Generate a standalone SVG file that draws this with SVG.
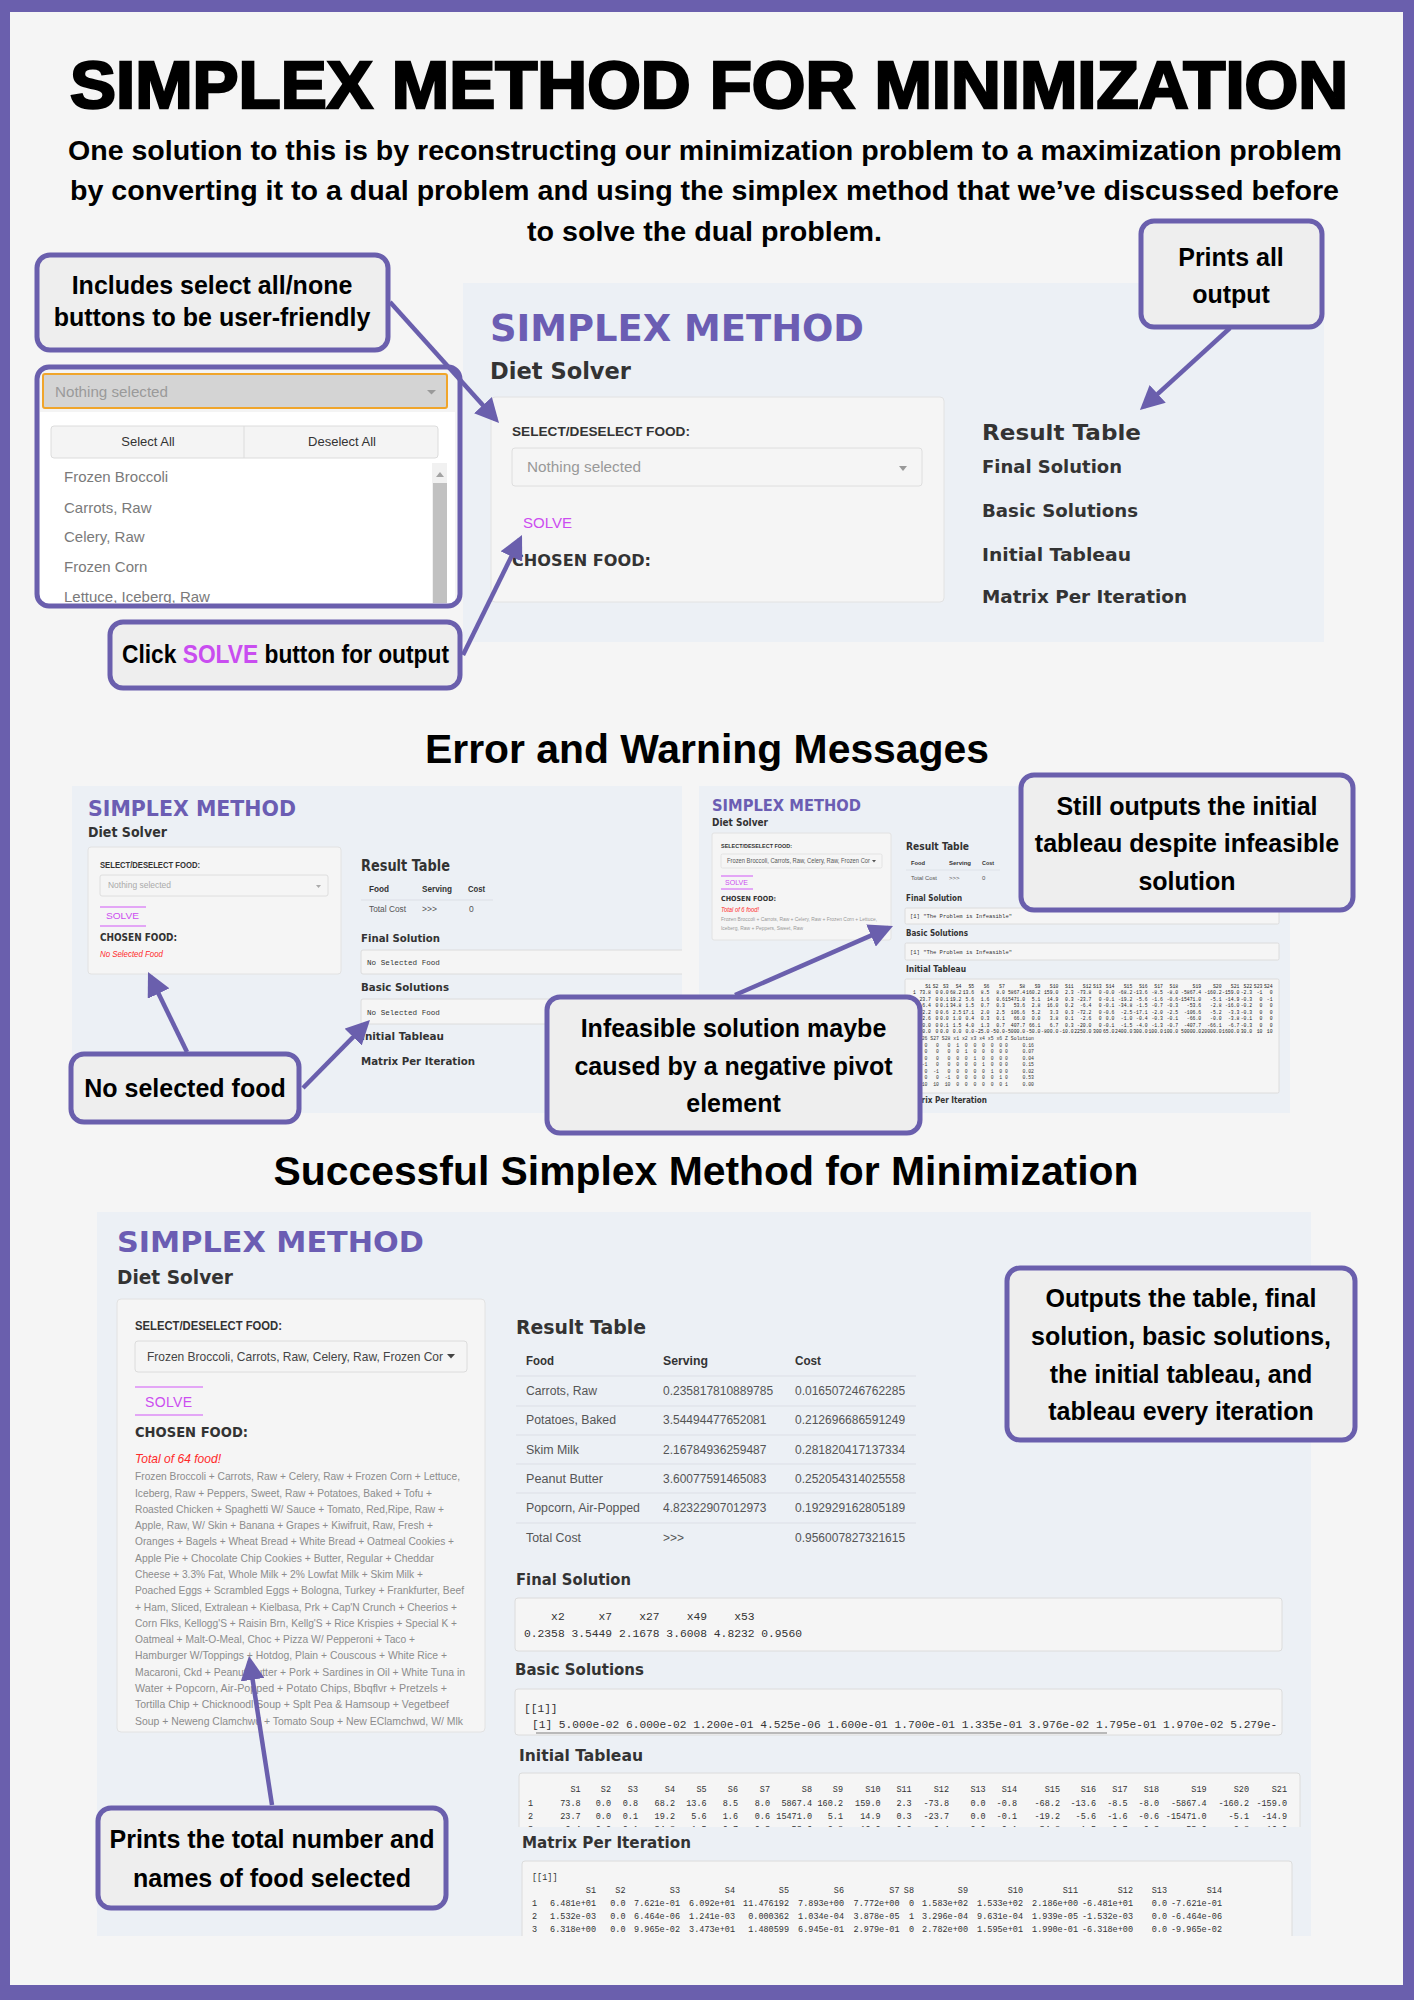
<svg xmlns="http://www.w3.org/2000/svg" width="1414" height="2000" viewBox="0 0 1414 2000">
<defs>
<style>
.co{fill:#eeeeee;stroke:#6a5fad;stroke-width:5}
.ct{font-family:"Liberation Sans",Arial,sans-serif;font-weight:700;font-size:25px;fill:#000;text-anchor:middle}
.sec{font-family:"Liberation Sans",Arial,sans-serif;font-weight:700;font-size:41px;fill:#000;text-anchor:middle}
.pnl{fill:#ecf0f5}
.card{fill:#f5f5f5;stroke:#e2e2e2;stroke-width:1}
.box{fill:#f5f5f5;stroke:#dcdcdc;stroke-width:1}
.hd{font-family:"DejaVu Sans",Verdana,sans-serif;font-weight:700;fill:#333}
.ap{font-family:"DejaVu Sans",Verdana,sans-serif;font-weight:700;fill:#6b5db3}
.sb{font-family:"Liberation Sans",Arial,sans-serif;font-weight:700;fill:#333}
.sn{font-family:"Liberation Sans",Arial,sans-serif;fill:#555}
.mo{font-family:"Liberation Mono","DejaVu Sans Mono",monospace;fill:#333;white-space:pre}
.tr{text-anchor:end}
.sv{font-family:"Liberation Sans",Arial,sans-serif;fill:#cc4df0}
.sl{stroke:#e3a6f6;stroke-width:2}
.red{font-family:"Liberation Sans",Arial,sans-serif;font-style:italic;fill:#ff2a2a}
.fl{font-family:"Liberation Sans",Arial,sans-serif;font-size:11px;fill:#8c8c8c}
.li{font-family:"Liberation Sans",Arial,sans-serif;font-size:15px;fill:#7a7a7a}
.conn{fill:none;stroke:#6a5fad;stroke-width:4.5;marker-end:url(#ah)}
</style>
<marker id="ah" markerUnits="userSpaceOnUse" markerWidth="24" markerHeight="24" viewBox="0 0 10 10" refX="8" refY="5" orient="auto"><path d="M0,0 L10,5 L0,10 Z" fill="#6a5fad"/></marker>
<clipPath id="cpList"><rect x="40" y="410" width="415" height="193"/></clipPath>
<clipPath id="cpEL"><rect x="72" y="786" width="610" height="327"/></clipPath>
<clipPath id="cpER"><rect x="699" y="786" width="591" height="327"/></clipPath>
<clipPath id="cpBot"><rect x="97" y="1212" width="1214" height="724"/></clipPath>
<clipPath id="cpIT"><rect x="510" y="1770" width="800" height="57"/></clipPath>
<clipPath id="cpBS"><rect x="516" y="1690" width="765" height="44"/></clipPath>
</defs>

<rect width="1414" height="2000" fill="#6a5fad"/>
<rect x="10" y="12" width="1393" height="1973" fill="#f5f5f5"/>

<g id="header">
<text x="709" y="108" text-anchor="middle" font-family="'Liberation Sans',Arial,sans-serif" font-weight="700" font-size="66" stroke="#000" stroke-width="2.5" textLength="1278" lengthAdjust="spacingAndGlyphs">SIMPLEX METHOD FOR MINIMIZATION</text>
<text x="705" y="160" text-anchor="middle" font-family="'Liberation Sans',Arial,sans-serif" font-weight="700" font-size="27" textLength="1274" lengthAdjust="spacingAndGlyphs">One solution to this is by reconstructing our minimization problem to a maximization problem</text>
<text x="704.5" y="200" text-anchor="middle" font-family="'Liberation Sans',Arial,sans-serif" font-weight="700" font-size="27" textLength="1269" lengthAdjust="spacingAndGlyphs">by converting it to a dual problem and using the simplex method that we’ve discussed before</text>
<text x="704.5" y="241" text-anchor="middle" font-family="'Liberation Sans',Arial,sans-serif" font-weight="700" font-size="27" textLength="355" lengthAdjust="spacingAndGlyphs">to solve the dual problem.</text>
</g>

<!-- Top-left dropdown screenshot -->
<g id="dropdown">
<rect x="37" y="367" width="423" height="239" rx="12" fill="#f4f4f4"/>
<rect x="40" y="412" width="415" height="192" fill="#ffffff"/>
<rect x="43" y="374" width="404" height="34" rx="2" fill="#d4d4d4" stroke="#f0a52b" stroke-width="2"/>
<text x="55" y="397" font-family="'Liberation Sans',Arial,sans-serif" font-size="15.5" fill="#9a9a9a" textLength="113" lengthAdjust="spacingAndGlyphs">Nothing selected</text>
<path d="M427,390 h9 l-4.5,4.5 Z" fill="#9a9a9a"/>
<rect x="51" y="426" width="387" height="32" rx="3" fill="#f4f4f4" stroke="#dcdcdc"/>
<line x1="244" y1="426" x2="244" y2="458" stroke="#dcdcdc"/>
<text x="148" y="446" text-anchor="middle" font-family="'Liberation Sans',Arial,sans-serif" font-size="13" fill="#333">Select All</text>
<text x="342" y="446" text-anchor="middle" font-family="'Liberation Sans',Arial,sans-serif" font-size="13" fill="#333">Deselect All</text>
<g clip-path="url(#cpList)">
<rect x="432" y="463" width="15" height="141" fill="#f1f1f1"/>
<rect x="433" y="483" width="14" height="121" fill="#c1c1c1"/>
<path d="M436,477 l4,-5 l4,5 Z" fill="#a3a3a3"/>
<text class="li" x="64" y="482">Frozen Broccoli</text>
<text class="li" x="64" y="513">Carrots, Raw</text>
<text class="li" x="64" y="542">Celery, Raw</text>
<text class="li" x="64" y="572">Frozen Corn</text>
<text class="li" x="64" y="602">Lettuce, Iceberg, Raw</text>
</g>
<rect x="37" y="367" width="423" height="239" rx="12" fill="none" stroke="#6a5fad" stroke-width="5"/>
</g>

<!-- Top-right app screenshot -->
<g id="app-top">
<rect class="pnl" x="463" y="283" width="861" height="359"/>
<text class="ap" x="490" y="341" font-size="37" textLength="374" lengthAdjust="spacingAndGlyphs">SIMPLEX METHOD</text>
<text class="hd" x="490" y="379" font-size="23" textLength="141" lengthAdjust="spacingAndGlyphs">Diet Solver</text>
<rect class="card" x="491" y="397" width="453" height="205" rx="4"/>
<text class="sb" x="512" y="436" font-size="13" textLength="178" lengthAdjust="spacingAndGlyphs">SELECT/DESELECT FOOD:</text>
<rect x="512" y="448" width="410" height="38" rx="3" fill="#f5f5f5" stroke="#dedede"/>
<text x="527" y="472" font-family="'Liberation Sans',Arial,sans-serif" font-size="15" fill="#999" textLength="114" lengthAdjust="spacingAndGlyphs">Nothing selected</text>
<path d="M899,466 h8 l-4,5 Z" fill="#999"/>
<text class="sv" x="523" y="528" font-size="15" textLength="49" lengthAdjust="spacingAndGlyphs">SOLVE</text>
<text class="hd" x="512" y="566" font-size="15" textLength="139" lengthAdjust="spacingAndGlyphs">CHOSEN FOOD:</text>
<text class="hd" x="982" y="440" font-size="22" textLength="159" lengthAdjust="spacingAndGlyphs">Result Table</text>
<text class="hd" x="982" y="473" font-size="18" textLength="140" lengthAdjust="spacingAndGlyphs">Final Solution</text>
<text class="hd" x="982" y="517" font-size="18" textLength="156" lengthAdjust="spacingAndGlyphs">Basic Solutions</text>
<text class="hd" x="982" y="561" font-size="18" textLength="149" lengthAdjust="spacingAndGlyphs">Initial Tableau</text>
<text class="hd" x="982" y="603" font-size="18" textLength="205" lengthAdjust="spacingAndGlyphs">Matrix Per Iteration</text>
</g>

<g id="title-errors">
<text class="sec" x="707" y="763" textLength="564" lengthAdjust="spacingAndGlyphs">Error and Warning Messages</text>
</g>

<!-- Error left screenshot -->
<g id="app-error-left" clip-path="url(#cpEL)">
<rect class="pnl" x="72" y="786" width="610" height="327"/>
<text class="ap" x="88" y="816" font-size="21" textLength="208" lengthAdjust="spacingAndGlyphs">SIMPLEX METHOD</text>
<text class="hd" x="88" y="837" font-size="14" textLength="79" lengthAdjust="spacingAndGlyphs">Diet Solver</text>
<rect class="card" x="88" y="847" width="253" height="127" rx="3"/>
<text class="sb" x="100" y="868" font-size="8.5" textLength="100" lengthAdjust="spacingAndGlyphs">SELECT/DESELECT FOOD:</text>
<rect x="100" y="875" width="228" height="21" rx="2" fill="#f5f5f5" stroke="#dedede"/>
<text x="108" y="888" font-family="'Liberation Sans',Arial,sans-serif" font-size="9" fill="#aaa" textLength="63" lengthAdjust="spacingAndGlyphs">Nothing selected</text>
<path d="M316,885 h5 l-2.5,3 Z" fill="#aaa"/>
<line class="sl" x1="100" y1="907" x2="146" y2="907"/>
<line class="sl" x1="100" y1="926" x2="146" y2="926"/>
<text class="sv" x="106" y="919" font-size="9.5" textLength="33" lengthAdjust="spacingAndGlyphs">SOLVE</text>
<text class="hd" x="100" y="941" font-size="10" textLength="77" lengthAdjust="spacingAndGlyphs">CHOSEN FOOD:</text>
<text class="red" x="100" y="957" font-size="9" textLength="63" lengthAdjust="spacingAndGlyphs">No Selected Food</text>
<text class="hd" x="361" y="871" font-size="15" textLength="89" lengthAdjust="spacingAndGlyphs">Result Table</text>
<text class="sb" x="369" y="892" font-size="8.5" textLength="20" lengthAdjust="spacingAndGlyphs">Food</text>
<text class="sb" x="422" y="892" font-size="8.5" textLength="30" lengthAdjust="spacingAndGlyphs">Serving</text>
<text class="sb" x="468" y="892" font-size="8.5" textLength="17" lengthAdjust="spacingAndGlyphs">Cost</text>
<line x1="361" y1="900" x2="493" y2="900" stroke="#dcdfe6"/>
<text class="sn" x="369" y="912" font-size="8.5" textLength="37" lengthAdjust="spacingAndGlyphs">Total Cost</text>
<text class="sn" x="422" y="912" font-size="8.5">&gt;&gt;&gt;</text>
<text class="sn" x="469" y="912" font-size="8.5">0</text>
<text class="hd" x="361" y="942" font-size="11" textLength="79" lengthAdjust="spacingAndGlyphs">Final Solution</text>
<rect class="box" x="361" y="950" width="340" height="24" rx="2"/>
<text class="mo" x="367" y="965" font-size="7.6" fill="#555">No Selected Food</text>
<text class="hd" x="361" y="991" font-size="11" textLength="88" lengthAdjust="spacingAndGlyphs">Basic Solutions</text>
<rect class="box" x="361" y="999" width="340" height="25" rx="2"/>
<text class="mo" x="367" y="1015" font-size="7.6" fill="#555">No Selected Food</text>
<text class="hd" x="361" y="1040" font-size="11" textLength="83" lengthAdjust="spacingAndGlyphs">Initial Tableau</text>
<text class="hd" x="361" y="1065" font-size="11" textLength="114" lengthAdjust="spacingAndGlyphs">Matrix Per Iteration</text>
</g>

<!-- Error right screenshot -->
<g id="app-error-right" clip-path="url(#cpER)">
<rect class="pnl" x="699" y="786" width="591" height="327"/>
<text class="ap" x="712" y="811" font-size="15.5" textLength="149" lengthAdjust="spacingAndGlyphs">SIMPLEX METHOD</text>
<text class="hd" x="712" y="826" font-size="10.5" textLength="56" lengthAdjust="spacingAndGlyphs">Diet Solver</text>
<rect class="card" x="712" y="833" width="179" height="107" rx="2"/>
<text class="sb" x="721" y="848" font-size="6" textLength="71" lengthAdjust="spacingAndGlyphs">SELECT/DESELECT FOOD:</text>
<rect x="721" y="854" width="161" height="14" rx="1.5" fill="#f5f5f5" stroke="#dedede" stroke-width="0.8"/>
<text x="727" y="863" font-family="'Liberation Sans',Arial,sans-serif" font-size="6.3" fill="#555" textLength="143" lengthAdjust="spacingAndGlyphs">Frozen Broccoli, Carrots, Raw, Celery, Raw, Frozen Cor</text>
<path d="M872,860 h4 l-2,2.5 Z" fill="#555"/>
<line class="sl" x1="721" y1="876" x2="753" y2="876" stroke-width="1.2"/>
<line class="sl" x1="721" y1="889" x2="753" y2="889" stroke-width="1.2"/>
<text class="sv" x="725" y="885" font-size="6.5" textLength="23" lengthAdjust="spacingAndGlyphs">SOLVE</text>
<text class="hd" x="721" y="901" font-size="7" textLength="55" lengthAdjust="spacingAndGlyphs">CHOSEN FOOD:</text>
<text class="red" x="721" y="912" font-size="6.5" textLength="38" lengthAdjust="spacingAndGlyphs">Total of 6 food!</text>
<text x="721" y="921" font-family="'Liberation Sans',Arial,sans-serif" font-size="5.5" fill="#999" textLength="156" lengthAdjust="spacingAndGlyphs">Frozen Broccoli + Carrots, Raw + Celery, Raw + Frozen Corn + Lettuce,</text>
<text x="721" y="930" font-family="'Liberation Sans',Arial,sans-serif" font-size="5.5" fill="#999" textLength="82" lengthAdjust="spacingAndGlyphs">Iceberg, Raw + Peppers, Sweet, Raw</text>
<text class="hd" x="906" y="850" font-size="10.5" textLength="63" lengthAdjust="spacingAndGlyphs">Result Table</text>
<text class="sb" x="911" y="865" font-size="6" textLength="14" lengthAdjust="spacingAndGlyphs">Food</text>
<text class="sb" x="949" y="865" font-size="6" textLength="22" lengthAdjust="spacingAndGlyphs">Serving</text>
<text class="sb" x="982" y="865" font-size="6" textLength="12" lengthAdjust="spacingAndGlyphs">Cost</text>
<line x1="906" y1="870" x2="1000" y2="870" stroke="#dcdfe6" stroke-width="0.8"/>
<text class="sn" x="911" y="880" font-size="6" textLength="26" lengthAdjust="spacingAndGlyphs">Total Cost</text>
<text class="sn" x="949" y="880" font-size="6">&gt;&gt;&gt;</text>
<text class="sn" x="982" y="880" font-size="6">0</text>
<text class="hd" x="906" y="901" font-size="8" textLength="56" lengthAdjust="spacingAndGlyphs">Final Solution</text>
<rect class="box" x="905" y="908" width="374" height="16" rx="1.5"/>
<text class="mo" x="910" y="918" font-size="5.5" fill="#555" textLength="102" lengthAdjust="spacingAndGlyphs">[1] "The Problem is Infeasible"</text>
<text class="hd" x="906" y="936" font-size="8" textLength="62" lengthAdjust="spacingAndGlyphs">Basic Solutions</text>
<rect class="box" x="905" y="943" width="374" height="17" rx="1.5"/>
<text class="mo" x="910" y="954" font-size="5.5" fill="#555" textLength="102" lengthAdjust="spacingAndGlyphs">[1] "The Problem is Infeasible"</text>
<text class="hd" x="906" y="972" font-size="8" textLength="60" lengthAdjust="spacingAndGlyphs">Initial Tableau</text>
<rect class="box" x="905" y="979" width="374" height="114" rx="1.5"/>
<g font-family="'Liberation Mono','DejaVu Sans Mono',monospace" font-size="4.8" fill="#222">
<text text-anchor="end" y="987.5"><tspan x="931">S1</tspan><tspan x="938.5">S2</tspan><tspan x="948.7">S3</tspan><tspan x="961.5">S4</tspan><tspan x="974.2">S5</tspan><tspan x="989.5">S6</tspan><tspan x="1004.8">S7</tspan><tspan x="1025.2">S8</tspan><tspan x="1040.5">S9</tspan><tspan x="1058.4">S10</tspan><tspan x="1073.7">S11</tspan><tspan x="1091.5">S12</tspan><tspan x="1101.7">S13</tspan><tspan x="1114.5">S14</tspan><tspan x="1132.3">S15</tspan><tspan x="1147.6">S16</tspan><tspan x="1162.9">S17</tspan><tspan x="1178.2">S18</tspan><tspan x="1201.2">S19</tspan><tspan x="1221.6">S20</tspan><tspan x="1239.4">S21</tspan><tspan x="1252.2">S22</tspan><tspan x="1262.4">S23</tspan><tspan x="1272.6">S24</tspan></text>
<text x="913" y="994">1</text>
<text text-anchor="end" y="994"><tspan x="931">73.8</tspan><tspan x="938.5">0</tspan><tspan x="948.7">0.0</tspan><tspan x="961.5">68.2</tspan><tspan x="974.2">13.6</tspan><tspan x="989.5">8.5</tspan><tspan x="1004.8">8.0</tspan><tspan x="1025.2">5867.4</tspan><tspan x="1040.5">160.2</tspan><tspan x="1058.4">159.0</tspan><tspan x="1073.7">2.3</tspan><tspan x="1091.5">-73.8</tspan><tspan x="1101.7">0</tspan><tspan x="1114.5">-0.0</tspan><tspan x="1132.3">-68.2</tspan><tspan x="1147.6">-13.6</tspan><tspan x="1162.9">-8.5</tspan><tspan x="1178.2">-8.0</tspan><tspan x="1201.2">-5867.4</tspan><tspan x="1221.6">-160.2</tspan><tspan x="1239.4">-159.0</tspan><tspan x="1252.2">-2.3</tspan><tspan x="1262.4">-1</tspan><tspan x="1272.6">0</tspan></text>
<text text-anchor="end" y="1000.5"><tspan x="931">23.7</tspan><tspan x="938.5">0</tspan><tspan x="948.7">0.1</tspan><tspan x="961.5">19.2</tspan><tspan x="974.2">5.6</tspan><tspan x="989.5">1.6</tspan><tspan x="1004.8">0.6</tspan><tspan x="1025.2">15471.0</tspan><tspan x="1040.5">5.1</tspan><tspan x="1058.4">14.9</tspan><tspan x="1073.7">0.3</tspan><tspan x="1091.5">-23.7</tspan><tspan x="1101.7">0</tspan><tspan x="1114.5">-0.1</tspan><tspan x="1132.3">-19.2</tspan><tspan x="1147.6">-5.6</tspan><tspan x="1162.9">-1.6</tspan><tspan x="1178.2">-0.6</tspan><tspan x="1201.2">-15471.0</tspan><tspan x="1221.6">-5.1</tspan><tspan x="1239.4">-14.9</tspan><tspan x="1252.2">-0.3</tspan><tspan x="1262.4">0</tspan><tspan x="1272.6">-1</tspan></text>
<text text-anchor="end" y="1007"><tspan x="931">6.4</tspan><tspan x="938.5">0</tspan><tspan x="948.7">0.1</tspan><tspan x="961.5">34.8</tspan><tspan x="974.2">1.5</tspan><tspan x="989.5">0.7</tspan><tspan x="1004.8">0.3</tspan><tspan x="1025.2">53.6</tspan><tspan x="1040.5">2.8</tspan><tspan x="1058.4">16.0</tspan><tspan x="1073.7">0.2</tspan><tspan x="1091.5">-6.4</tspan><tspan x="1101.7">0</tspan><tspan x="1114.5">-0.1</tspan><tspan x="1132.3">-34.8</tspan><tspan x="1147.6">-1.5</tspan><tspan x="1162.9">-0.7</tspan><tspan x="1178.2">-0.3</tspan><tspan x="1201.2">-53.6</tspan><tspan x="1221.6">-2.8</tspan><tspan x="1239.4">-16.0</tspan><tspan x="1252.2">-0.2</tspan><tspan x="1262.4">0</tspan><tspan x="1272.6">0</tspan></text>
<text text-anchor="end" y="1013.5"><tspan x="931">72.2</tspan><tspan x="938.5">0</tspan><tspan x="948.7">0.6</tspan><tspan x="961.5">2.5</tspan><tspan x="974.2">17.1</tspan><tspan x="989.5">2.0</tspan><tspan x="1004.8">2.5</tspan><tspan x="1025.2">106.6</tspan><tspan x="1040.5">5.2</tspan><tspan x="1058.4">3.3</tspan><tspan x="1073.7">0.3</tspan><tspan x="1091.5">-72.2</tspan><tspan x="1101.7">0</tspan><tspan x="1114.5">-0.6</tspan><tspan x="1132.3">-2.5</tspan><tspan x="1147.6">-17.1</tspan><tspan x="1162.9">-2.0</tspan><tspan x="1178.2">-2.5</tspan><tspan x="1201.2">-106.6</tspan><tspan x="1221.6">-5.2</tspan><tspan x="1239.4">-3.3</tspan><tspan x="1252.2">-0.3</tspan><tspan x="1262.4">0</tspan><tspan x="1272.6">0</tspan></text>
<text text-anchor="end" y="1020"><tspan x="931">2.6</tspan><tspan x="938.5">0</tspan><tspan x="948.7">0.0</tspan><tspan x="961.5">1.0</tspan><tspan x="974.2">0.4</tspan><tspan x="989.5">0.3</tspan><tspan x="1004.8">0.1</tspan><tspan x="1025.2">66.0</tspan><tspan x="1040.5">0.0</tspan><tspan x="1058.4">3.8</tspan><tspan x="1073.7">0.1</tspan><tspan x="1091.5">-2.6</tspan><tspan x="1101.7">0</tspan><tspan x="1114.5">0.0</tspan><tspan x="1132.3">-1.0</tspan><tspan x="1147.6">-0.4</tspan><tspan x="1162.9">-0.3</tspan><tspan x="1178.2">-0.1</tspan><tspan x="1201.2">-66.0</tspan><tspan x="1221.6">-0.0</tspan><tspan x="1239.4">-3.8</tspan><tspan x="1252.2">-0.1</tspan><tspan x="1262.4">0</tspan><tspan x="1272.6">0</tspan></text>
<text text-anchor="end" y="1026.5"><tspan x="931">20.0</tspan><tspan x="938.5">0</tspan><tspan x="948.7">0.1</tspan><tspan x="961.5">1.5</tspan><tspan x="974.2">4.0</tspan><tspan x="989.5">1.3</tspan><tspan x="1004.8">0.7</tspan><tspan x="1025.2">407.7</tspan><tspan x="1040.5">66.1</tspan><tspan x="1058.4">6.7</tspan><tspan x="1073.7">0.3</tspan><tspan x="1091.5">-20.0</tspan><tspan x="1101.7">0</tspan><tspan x="1114.5">-0.1</tspan><tspan x="1132.3">-1.5</tspan><tspan x="1147.6">-4.0</tspan><tspan x="1162.9">-1.3</tspan><tspan x="1178.2">-0.7</tspan><tspan x="1201.2">-407.7</tspan><tspan x="1221.6">-66.1</tspan><tspan x="1239.4">-6.7</tspan><tspan x="1252.2">-0.3</tspan><tspan x="1262.4">0</tspan><tspan x="1272.6">0</tspan></text>
<text text-anchor="end" y="1033"><tspan x="931">-80.0</tspan><tspan x="938.5">0</tspan><tspan x="948.7">0.0</tspan><tspan x="961.5">0.0</tspan><tspan x="974.2">0.0</tspan><tspan x="989.5">-25.0</tspan><tspan x="1004.8">-50.0</tspan><tspan x="1025.2">-5000.0</tspan><tspan x="1040.5">-50.0</tspan><tspan x="1058.4">-800.0</tspan><tspan x="1073.7">-10.0</tspan><tspan x="1091.5">2250.0</tspan><tspan x="1101.7">300</tspan><tspan x="1114.5">65.0</tspan><tspan x="1132.3">2400.0</tspan><tspan x="1147.6">300.0</tspan><tspan x="1162.9">100.0</tspan><tspan x="1178.2">100.0</tspan><tspan x="1201.2">50000.0</tspan><tspan x="1221.6">20000.0</tspan><tspan x="1239.4">1600.0</tspan><tspan x="1252.2">30.0</tspan><tspan x="1262.4">10</tspan><tspan x="1272.6">10</tspan></text>
<text class="mo" x="913" y="1040" fill="#222" xml:space="preserve">  S26 S27 S28 x1 x2 x3 x4 x5 x6 Z Solution</text>
<text class="mo" x="913" y="1046.5" fill="#222" xml:space="preserve">    0   0   0  1  0  0  0  0  0 0     0.16</text>
<text class="mo" x="913" y="1053" fill="#222" xml:space="preserve">    0   0   0  0  1  0  0  0  0 0     0.07</text>
<text class="mo" x="913" y="1059.5" fill="#222" xml:space="preserve">    0   0   0  0  0  1  0  0  0 0     0.04</text>
<text class="mo" x="913" y="1066" fill="#222" xml:space="preserve">   -1   0   0  0  0  0  1  0  0 0     0.15</text>
<text class="mo" x="913" y="1072.5" fill="#222" xml:space="preserve">    0  -1   0  0  0  0  0  1  0 0     0.02</text>
<text class="mo" x="913" y="1079" fill="#222" xml:space="preserve">    0   0  -1  0  0  0  0  0  1 0     0.53</text>
<text class="mo" x="913" y="1085.5" fill="#222" xml:space="preserve">   10  10  10  0  0  0  0  0  0 1     0.00</text>
</g>
<text class="hd" x="906" y="1103" font-size="8" textLength="81" lengthAdjust="spacingAndGlyphs">Matrix Per Iteration</text>
</g>

<g id="title-success">
<text class="sec" x="706" y="1185" textLength="865" lengthAdjust="spacingAndGlyphs">Successful Simplex Method for Minimization</text>
</g>

<!-- Bottom successful screenshot -->
<g id="app-success" clip-path="url(#cpBot)">
<rect class="pnl" x="97" y="1212" width="1214" height="724"/>
<text class="ap" x="117" y="1252" font-size="29" textLength="307" lengthAdjust="spacingAndGlyphs">SIMPLEX METHOD</text>
<text class="hd" x="117" y="1284" font-size="20" textLength="116" lengthAdjust="spacingAndGlyphs">Diet Solver</text>
<rect class="card" x="117" y="1299" width="368" height="433" rx="4"/>
<text class="sb" x="135" y="1330" font-size="13" textLength="147" lengthAdjust="spacingAndGlyphs">SELECT/DESELECT FOOD:</text>
<rect x="135" y="1341" width="332" height="31" rx="3" fill="#f5f5f5" stroke="#dcdcdc"/>
<text x="147" y="1361" font-family="'Liberation Sans',Arial,sans-serif" font-size="13.5" fill="#444" textLength="296" lengthAdjust="spacingAndGlyphs">Frozen Broccoli, Carrots, Raw, Celery, Raw, Frozen Cor</text>
<path d="M447,1354 h8 l-4,4.5 Z" fill="#444"/>
<line class="sl" x1="135" y1="1387" x2="203" y2="1387"/>
<line class="sl" x1="135" y1="1415" x2="203" y2="1415"/>
<text class="sv" x="145" y="1407" font-size="14" textLength="47" lengthAdjust="spacing">SOLVE</text>
<text class="hd" x="135" y="1437" font-size="14" textLength="113" lengthAdjust="spacingAndGlyphs">CHOSEN FOOD:</text>
<text class="red" x="135" y="1463" font-size="13.5" textLength="86" lengthAdjust="spacingAndGlyphs">Total of 64 food!</text>
<text class="fl" x="135" y="1480" textLength="325" lengthAdjust="spacingAndGlyphs">Frozen Broccoli + Carrots, Raw + Celery, Raw + Frozen Corn + Lettuce,</text>
<text class="fl" x="135" y="1497" textLength="297" lengthAdjust="spacingAndGlyphs">Iceberg, Raw + Peppers, Sweet, Raw + Potatoes, Baked + Tofu +</text>
<text class="fl" x="135" y="1513" textLength="309" lengthAdjust="spacingAndGlyphs">Roasted Chicken + Spaghetti W/ Sauce + Tomato, Red,Ripe, Raw +</text>
<text class="fl" x="135" y="1529" textLength="298" lengthAdjust="spacingAndGlyphs">Apple, Raw, W/ Skin + Banana + Grapes + Kiwifruit, Raw, Fresh +</text>
<text class="fl" x="135" y="1545" textLength="319" lengthAdjust="spacingAndGlyphs">Oranges + Bagels + Wheat Bread + White Bread + Oatmeal Cookies +</text>
<text class="fl" x="135" y="1562" textLength="299" lengthAdjust="spacingAndGlyphs">Apple Pie + Chocolate Chip Cookies + Butter, Regular + Cheddar</text>
<text class="fl" x="135" y="1578" textLength="288" lengthAdjust="spacingAndGlyphs">Cheese + 3.3% Fat, Whole Milk + 2% Lowfat Milk + Skim Milk +</text>
<text class="fl" x="135" y="1594" textLength="329" lengthAdjust="spacingAndGlyphs">Poached Eggs + Scrambled Eggs + Bologna, Turkey + Frankfurter, Beef</text>
<text class="fl" x="135" y="1611" textLength="322" lengthAdjust="spacingAndGlyphs">+ Ham, Sliced, Extralean + Kielbasa, Prk + Cap'N Crunch + Cheerios +</text>
<text class="fl" x="135" y="1627" textLength="322" lengthAdjust="spacingAndGlyphs">Corn Flks, Kellogg'S + Raisin Brn, Kellg'S + Rice Krispies + Special K +</text>
<text class="fl" x="135" y="1643" textLength="280" lengthAdjust="spacingAndGlyphs">Oatmeal + Malt-O-Meal, Choc + Pizza W/ Pepperoni + Taco +</text>
<text class="fl" x="135" y="1659" textLength="312" lengthAdjust="spacingAndGlyphs">Hamburger W/Toppings + Hotdog, Plain + Couscous + White Rice +</text>
<text class="fl" x="135" y="1676" textLength="330" lengthAdjust="spacingAndGlyphs">Macaroni, Ckd + Peanut Butter + Pork + Sardines in Oil + White Tuna in</text>
<text class="fl" x="135" y="1692" textLength="312" lengthAdjust="spacingAndGlyphs">Water + Popcorn, Air-Popped + Potato Chips, Bbqflvr + Pretzels +</text>
<text class="fl" x="135" y="1708" textLength="314" lengthAdjust="spacingAndGlyphs">Tortilla Chip + Chicknoodl Soup + Splt Pea &amp; Hamsoup + Vegetbeef</text>
<text class="fl" x="135" y="1725" textLength="328" lengthAdjust="spacingAndGlyphs">Soup + Neweng Clamchwd + Tomato Soup + New EClamchwd, W/ Mlk</text>

<text class="hd" x="516" y="1334" font-size="20" textLength="130" lengthAdjust="spacingAndGlyphs">Result Table</text>
<text class="sb" x="526" y="1365" font-size="12.5" textLength="28" lengthAdjust="spacingAndGlyphs">Food</text>
<text class="sb" x="663" y="1365" font-size="12.5" textLength="45" lengthAdjust="spacingAndGlyphs">Serving</text>
<text class="sb" x="795" y="1365" font-size="12.5" textLength="26" lengthAdjust="spacingAndGlyphs">Cost</text>
<g stroke="#dcdfe6" stroke-width="1">
<line x1="516" y1="1376" x2="916" y2="1376"/>
<line x1="516" y1="1406" x2="916" y2="1406"/>
<line x1="516" y1="1435" x2="916" y2="1435"/>
<line x1="516" y1="1464" x2="916" y2="1464"/>
<line x1="516" y1="1493" x2="916" y2="1493"/>
<line x1="516" y1="1523" x2="916" y2="1523"/>
</g>
<g font-family="'Liberation Sans',Arial,sans-serif" font-size="12" fill="#555">
<text x="526" y="1395" textLength="71" lengthAdjust="spacingAndGlyphs">Carrots, Raw</text>
<text x="663" y="1395">0.235817810889785</text>
<text x="795" y="1395">0.016507246762285</text>
<text x="526" y="1424" textLength="90" lengthAdjust="spacingAndGlyphs">Potatoes, Baked</text>
<text x="663" y="1424">3.54494477652081</text>
<text x="795" y="1424">0.212696686591249</text>
<text x="526" y="1454" textLength="53" lengthAdjust="spacingAndGlyphs">Skim Milk</text>
<text x="663" y="1454">2.16784936259487</text>
<text x="795" y="1454">0.281820417137334</text>
<text x="526" y="1483" textLength="77" lengthAdjust="spacingAndGlyphs">Peanut Butter</text>
<text x="663" y="1483">3.60077591465083</text>
<text x="795" y="1483">0.252054314025558</text>
<text x="526" y="1512" textLength="114" lengthAdjust="spacingAndGlyphs">Popcorn, Air-Popped</text>
<text x="663" y="1512">4.82322907012973</text>
<text x="795" y="1512">0.192929162805189</text>
<text x="526" y="1542" textLength="55" lengthAdjust="spacingAndGlyphs">Total Cost</text>
<text x="663" y="1542">&gt;&gt;&gt;</text>
<text x="795" y="1542">0.956007827321615</text>
</g>
<text class="hd" x="516" y="1585" font-size="15" textLength="115" lengthAdjust="spacingAndGlyphs">Final Solution</text>
<rect class="box" x="515" y="1598" width="767" height="53" rx="3"/>
<text class="mo" x="524" y="1620" font-size="11.3" xml:space="preserve">    x2     x7    x27    x49    x53</text>
<text class="mo" x="524" y="1637" font-size="11.3" xml:space="preserve">0.2358 3.5449 2.1678 3.6008 4.8232 0.9560</text>
<text class="hd" x="515" y="1675" font-size="15" textLength="129" lengthAdjust="spacingAndGlyphs">Basic Solutions</text>
<rect class="box" x="515" y="1689" width="767" height="46" rx="3"/>
<g clip-path="url(#cpBS)">
<text class="mo" x="524" y="1712" font-size="11.2">[[1]]</text>
<text class="mo" x="532" y="1728" font-size="11.2" xml:space="preserve">[1] 5.000e-02 6.000e-02 1.200e-01 4.525e-06 1.600e-01 1.700e-01 1.335e-01 3.976e-02 1.795e-01 1.970e-02 5.279e-</text>
<line x1="536" y1="1733" x2="1107" y2="1733" stroke="#b9b9b9" stroke-width="2"/>
</g>
<text class="hd" x="519" y="1761" font-size="15" textLength="124" lengthAdjust="spacingAndGlyphs">Initial Tableau</text>
<g clip-path="url(#cpIT)">
<rect class="box" x="519" y="1773" width="781" height="70" rx="3"/>
<g font-family="'Liberation Mono','DejaVu Sans Mono',monospace" font-size="8.5" fill="#333">
<text text-anchor="end" y="1792"><tspan x="580.6">S1</tspan><tspan x="611">S2</tspan><tspan x="638">S3</tspan><tspan x="675">S4</tspan><tspan x="706.6">S5</tspan><tspan x="738">S6</tspan><tspan x="770">S7</tspan><tspan x="812">S8</tspan><tspan x="843">S9</tspan><tspan x="880.6">S10</tspan><tspan x="911.7">S11</tspan><tspan x="949">S12</tspan><tspan x="985.7">S13</tspan><tspan x="1017">S14</tspan><tspan x="1060">S15</tspan><tspan x="1096">S16</tspan><tspan x="1127.6">S17</tspan><tspan x="1159">S18</tspan><tspan x="1206.6">S19</tspan><tspan x="1249">S20</tspan><tspan x="1287">S21</tspan></text>
<text x="528" y="1806">1</text>
<text text-anchor="end" y="1806"><tspan x="580.6">73.8</tspan><tspan x="611">0.0</tspan><tspan x="638">0.8</tspan><tspan x="675">68.2</tspan><tspan x="706.6">13.6</tspan><tspan x="738">8.5</tspan><tspan x="770">8.0</tspan><tspan x="812">5867.4</tspan><tspan x="843">160.2</tspan><tspan x="880.6">159.0</tspan><tspan x="911.7">2.3</tspan><tspan x="949">-73.8</tspan><tspan x="985.7">0.0</tspan><tspan x="1017">-0.8</tspan><tspan x="1060">-68.2</tspan><tspan x="1096">-13.6</tspan><tspan x="1127.6">-8.5</tspan><tspan x="1159">-8.0</tspan><tspan x="1206.6">-5867.4</tspan><tspan x="1249">-160.2</tspan><tspan x="1287">-159.0</tspan></text>
<text x="528" y="1819">2</text>
<text text-anchor="end" y="1819"><tspan x="580.6">23.7</tspan><tspan x="611">0.0</tspan><tspan x="638">0.1</tspan><tspan x="675">19.2</tspan><tspan x="706.6">5.6</tspan><tspan x="738">1.6</tspan><tspan x="770">0.6</tspan><tspan x="812">15471.0</tspan><tspan x="843">5.1</tspan><tspan x="880.6">14.9</tspan><tspan x="911.7">0.3</tspan><tspan x="949">-23.7</tspan><tspan x="985.7">0.0</tspan><tspan x="1017">-0.1</tspan><tspan x="1060">-19.2</tspan><tspan x="1096">-5.6</tspan><tspan x="1127.6">-1.6</tspan><tspan x="1159">-0.6</tspan><tspan x="1206.6">-15471.0</tspan><tspan x="1249">-5.1</tspan><tspan x="1287">-14.9</tspan></text>
<text x="528" y="1832">3</text>
<text text-anchor="end" y="1832"><tspan x="580.6">6.4</tspan><tspan x="611">0.0</tspan><tspan x="638">0.1</tspan><tspan x="675">34.8</tspan><tspan x="706.6">1.5</tspan><tspan x="738">0.7</tspan><tspan x="770">0.3</tspan><tspan x="812">53.6</tspan><tspan x="843">2.8</tspan><tspan x="880.6">16.0</tspan><tspan x="911.7">0.2</tspan><tspan x="949">-6.4</tspan><tspan x="985.7">0.0</tspan><tspan x="1017">-0.1</tspan><tspan x="1060">-34.8</tspan><tspan x="1096">-1.5</tspan><tspan x="1127.6">-0.7</tspan><tspan x="1159">-0.3</tspan><tspan x="1206.6">-53.6</tspan><tspan x="1249">-2.8</tspan><tspan x="1287">-16.0</tspan></text>
</g>
</g>
<text class="hd" x="522" y="1848" font-size="15" textLength="169" lengthAdjust="spacingAndGlyphs">Matrix Per Iteration</text>
<rect class="box" x="522" y="1861" width="770" height="90" rx="3"/>
<g font-family="'Liberation Mono','DejaVu Sans Mono',monospace" font-size="8.5" fill="#333">
<text x="532" y="1880">[[1]]</text>
<text text-anchor="end" y="1893"><tspan x="596">S1</tspan><tspan x="625.5">S2</tspan><tspan x="680">S3</tspan><tspan x="735">S4</tspan><tspan x="789">S5</tspan><tspan x="844">S6</tspan><tspan x="899.5">S7</tspan><tspan x="914">S8</tspan><tspan x="968">S9</tspan><tspan x="1023">S10</tspan><tspan x="1078">S11</tspan><tspan x="1133">S12</tspan><tspan x="1167">S13</tspan><tspan x="1222">S14</tspan></text>
<text x="532" y="1906">1</text>
<text text-anchor="end" y="1906"><tspan x="596">6.481e+01</tspan><tspan x="625.5">0.0</tspan><tspan x="680">7.621e-01</tspan><tspan x="735">6.092e+01</tspan><tspan x="789">11.476192</tspan><tspan x="844">7.893e+00</tspan><tspan x="899.5">7.772e+00</tspan><tspan x="914">0</tspan><tspan x="968">1.583e+02</tspan><tspan x="1023">1.533e+02</tspan><tspan x="1078">2.186e+00</tspan><tspan x="1133">-6.481e+01</tspan><tspan x="1167">0.0</tspan><tspan x="1222">-7.621e-01</tspan></text>
<text x="532" y="1919">2</text>
<text text-anchor="end" y="1919"><tspan x="596">1.532e-03</tspan><tspan x="625.5">0.0</tspan><tspan x="680">6.464e-06</tspan><tspan x="735">1.241e-03</tspan><tspan x="789">0.000362</tspan><tspan x="844">1.034e-04</tspan><tspan x="899.5">3.878e-05</tspan><tspan x="914">1</tspan><tspan x="968">3.296e-04</tspan><tspan x="1023">9.631e-04</tspan><tspan x="1078">1.939e-05</tspan><tspan x="1133">-1.532e-03</tspan><tspan x="1167">0.0</tspan><tspan x="1222">-6.464e-06</tspan></text>
<text x="532" y="1932">3</text>
<text text-anchor="end" y="1932"><tspan x="596">6.318e+00</tspan><tspan x="625.5">0.0</tspan><tspan x="680">9.965e-02</tspan><tspan x="735">3.473e+01</tspan><tspan x="789">1.480599</tspan><tspan x="844">6.945e-01</tspan><tspan x="899.5">2.979e-01</tspan><tspan x="914">0</tspan><tspan x="968">2.782e+00</tspan><tspan x="1023">1.595e+01</tspan><tspan x="1078">1.990e-01</tspan><tspan x="1133">-6.318e+00</tspan><tspan x="1167">0.0</tspan><tspan x="1222">-9.965e-02</tspan></text>
</g>
</g>

<!-- Callouts -->
<g id="callout-select-all">
<rect class="co" x="37" y="255" width="351" height="95" rx="13"/>
<text class="ct" x="212" y="294" font-size="23">Includes select all/none</text>
<text class="ct" x="212" y="326" font-size="23">buttons to be user-friendly</text>
</g>
<g id="callout-prints-all">
<rect class="co" x="1141" y="221" width="181" height="106" rx="13"/>
<text class="ct" x="1231" y="266">Prints all</text>
<text class="ct" x="1231" y="303">output</text>
</g>
<g id="callout-click-solve">
<rect class="co" x="110" y="622" width="350" height="66" rx="13"/>
<text class="ct" x="285.5" y="663" font-size="23" textLength="327" lengthAdjust="spacingAndGlyphs">Click <tspan fill="#c94df0">SOLVE</tspan> button for output</text>
</g>
<g id="callout-no-food">
<rect class="co" x="71" y="1054" width="228" height="68" rx="13"/>
<text class="ct" x="185" y="1097">No selected food</text>
</g>
<g id="callout-infeasible">
<rect class="co" x="547" y="997" width="373" height="136" rx="13"/>
<text class="ct" x="733.5" y="1037">Infeasible solution maybe</text>
<text class="ct" x="733.5" y="1075">caused by a negative pivot</text>
<text class="ct" x="733.5" y="1112">element</text>
</g>
<g id="callout-still-outputs">
<rect class="co" x="1021" y="775" width="332" height="135" rx="13"/>
<text class="ct" x="1187" y="815">Still outputs the initial</text>
<text class="ct" x="1187" y="852">tableau despite infeasible</text>
<text class="ct" x="1187" y="890">solution</text>
</g>
<g id="callout-outputs-table">
<rect class="co" x="1007" y="1268" width="348" height="172" rx="13"/>
<text class="ct" x="1181" y="1307">Outputs the table, final</text>
<text class="ct" x="1181" y="1345">solution, basic solutions,</text>
<text class="ct" x="1181" y="1383">the initial tableau, and</text>
<text class="ct" x="1181" y="1420">tableau every iteration</text>
</g>
<g id="callout-total-food">
<rect class="co" x="98" y="1808" width="348" height="100" rx="13"/>
<text class="ct" x="272" y="1848">Prints the total number and</text>
<text class="ct" x="272" y="1887">names of food selected</text>
</g>

<!-- Connectors -->
<g id="connectors">
<line class="conn" x1="390" y1="302" x2="495.8" y2="419.4"/>
<line class="conn" x1="1230" y1="328" x2="1143.5" y2="406.8"/>
<line class="conn" x1="463" y1="655" x2="519.9" y2="539.3"/>
<line class="conn" x1="187" y1="1052" x2="150.1" y2="976.3"/>
<line class="conn" x1="303" y1="1088" x2="366.6" y2="1023.4"/>
<line class="conn" x1="735" y1="995" x2="888.6" y2="927.9"/>
<line class="conn" x1="272" y1="1805" x2="249.7" y2="1660.7"/>
</g>
</svg>
